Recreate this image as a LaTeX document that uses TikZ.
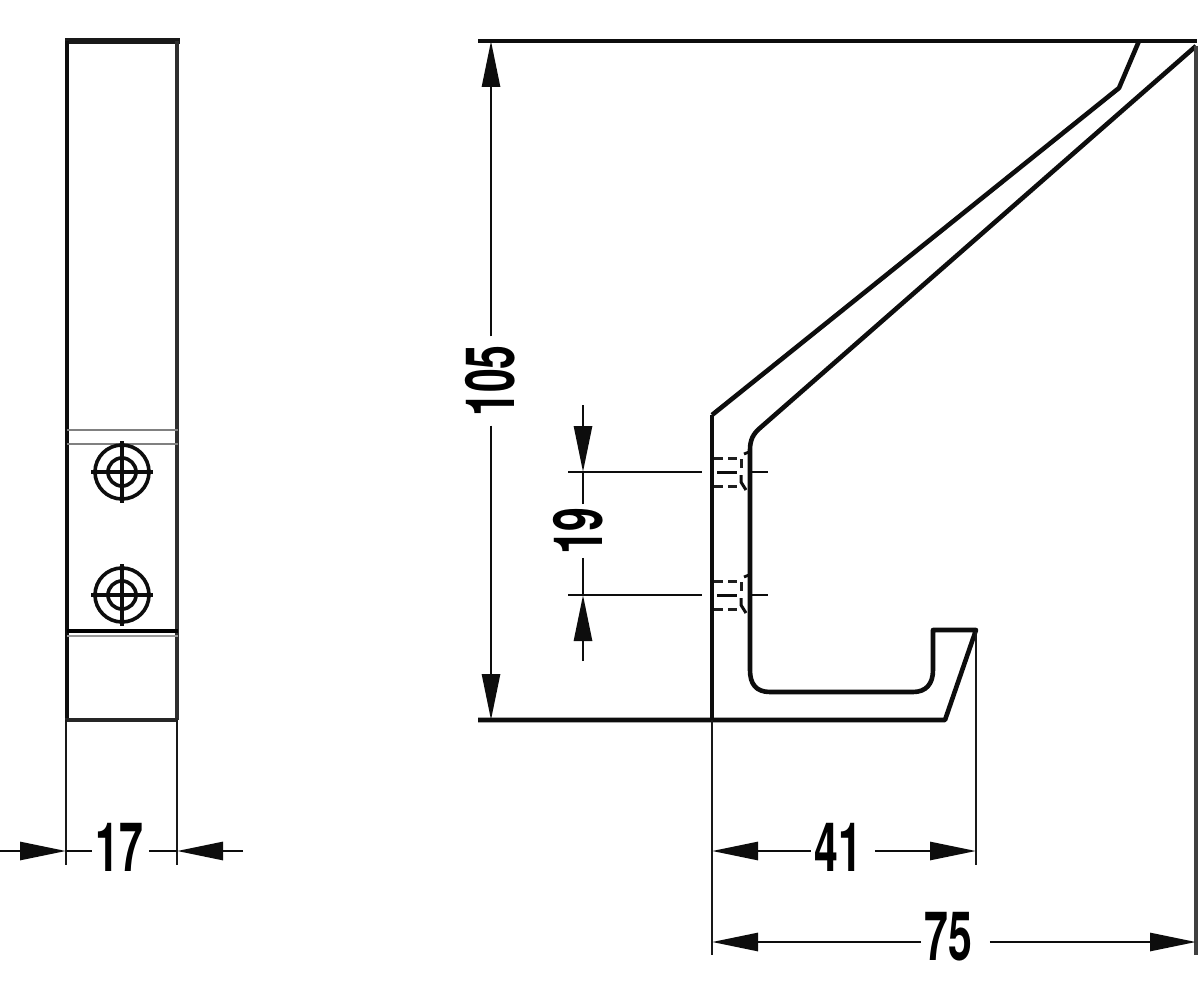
\documentclass[tikz,border=0pt]{standalone}
\usepackage{fontspec}
\setmainfont{TeX Gyre Heros}
\usetikzlibrary{arrows.meta,calc}
\newcommand{\dimtext}[1]{\scalebox{0.63}[1]{\fontsize{68}{68}\selectfont\bfseries #1}}
\tikzset{
  x=1pt,y=-1pt,
  outline/.style={line width=4.6pt,line join=round,draw=black!95},
  thin outline/.style={line width=4pt,draw=black!82},
  greyline/.style={line width=2.4pt,draw=black!50},
  ext/.style={line width=2.8pt,draw=black!90},
  dimline/.style={line width=2.8pt,draw=black!95,-{Triangle[length=46pt,width=18pt]}},
  plainline/.style={line width=2.8pt,draw=black!95},
  hidden/.style={line width=3pt,draw=black!88,dash pattern=on 9pt off 5pt},
  ring/.style={line width=3.6pt,draw=black!95},
  dimlabel/.style={inner sep=0pt,outer sep=3pt,text=black},
}
\begin{document}
\begin{tikzpicture}
\useasboundingbox (0,0) rectangle (1200,1000);
\fill[white] (0,0) rectangle (1200,1000);

% ---------- front view ----------
\draw[line width=5.5pt,draw=black!90] (65,41) -- (180,41);
\draw[line width=4.6pt,draw=black!95] (67,41) -- (67,720);
\draw[thin outline] (177,41) -- (177,720);
\draw[greyline] (67,430) -- (178,430);
\draw[greyline] (67,444) -- (178,444);
\draw[line width=4.6pt,draw=black] (67,631) -- (178,631);
\draw[line width=2.6pt,draw=black!40] (67,636) -- (178,636);
\draw[line width=4pt,draw=black!85] (65,720) -- (178,720);

\foreach \cy in {472,595}{
  \draw[ring] (122,\cy) circle (27);
  \draw[ring] (122,\cy) circle (14);
  \draw[ring] (91,\cy) -- (153,\cy);
  \draw[ring] (122,\cy-31) -- (122,\cy+31);
}

% 17
\coordinate (e17la) at (66,720);
\coordinate (e17lb) at (66,865);
\coordinate (e17ra) at (177,720);
\coordinate (e17rb) at (177,865);
\draw[ext] (e17la) -- (e17lb);
\draw[ext] (e17ra) -- (e17rb);
\node[dimlabel] (lab17) at (119,847) {\dimtext{17}};
\coordinate (t17l) at (66,851);
\coordinate (t17r) at (177,851);
\coordinate (o17l) at (0,851);
\coordinate (o17r) at (243,851);
\draw[dimline] (o17l) -- (t17l);
\draw[dimline] (o17r) -- (t17r);
\draw[plainline] (t17l) -- (lab17.west |- t17l);
\draw[plainline] (t17r) -- ($(lab17.east |- t17r)+(3,0)$);

% ---------- side view ----------
\draw[line width=4.6pt,draw=black!95] (478,41) -- (1197,41);
\draw[outline] (712,415) -- (1119,88) -- (1139,41);
\draw[outline] (1196,46) -- (760,428)
  .. controls (753,434) and (750,440) .. (750,450)
  -- (750,670)
  .. controls (750,684) and (756,692) .. (770,692)
  -- (913,692)
  .. controls (926,692) and (933,684) .. (933,670)
  -- (933,630) -- (976,630) -- (945,720) -- (478,720);
\draw[outline] (712,415) -- (712,720);
\draw[ext] (712,720) -- (712,955);
\draw[line width=3.4pt,draw=black!75] (1196,46) -- (1196,955);
\draw[ext] (976,632) -- (976,865);

% fixing details
\foreach \cy in {472,595}{
  \draw[hidden] (714,\cy-14) -- (741,\cy-14) -- (741,\cy-3);
  \draw[hidden] (714,\cy+14) -- (738,\cy+14);
  \draw[plainline,line width=3pt] (741,\cy+3) -- (741,\cy+10) -- (746,\cy+18);
  \draw[plainline,line width=3pt] (717,\cy) -- (737,\cy);
  \draw[plainline] (752,\cy) -- (768,\cy);
  \draw[plainline] (744,\cy-18) -- (749,\cy-20);
  \draw[plainline] (568,\cy) -- (702,\cy);
}

% 105
\coordinate (t105a) at (491,41);
\coordinate (t105b) at (491,720);
\node[dimlabel,rotate=90] (lab105) at (490,381) {\dimtext{105}};
\draw[dimline] ($(t105a |- lab105.east)+(0,-6)$) -- (t105a);
\draw[dimline] ($(t105b |- lab105.west)+(0,6)$) -- (t105b);

% 19
\coordinate (t19a) at (583,472);
\coordinate (t19b) at (583,595);
\coordinate (o19a) at (583,405);
\coordinate (o19b) at (583,661);
\node[dimlabel,rotate=90] (lab19) at (578,531) {\dimtext{19}};
\draw[dimline] (o19a) -- (t19a);
\draw[dimline] (o19b) -- (t19b);
\draw[plainline] (t19a |- lab19.east) -- (t19a);
\draw[plainline] (t19b |- lab19.west) -- (t19b);

% 41
\coordinate (t41a) at (712,851);
\coordinate (t41b) at (976,851);
\node[dimlabel] (lab41) at (838,847) {\dimtext{41}};
\draw[dimline] (lab41.west |- t41a) -- (t41a);
\draw[dimline] ($(lab41.east |- t41b)+(10,0)$) -- (t41b);

% 75
\coordinate (t75a) at (712,942);
\coordinate (t75b) at (1196,942);
\node[dimlabel] (lab75) at (948,937) {\dimtext{75}};
\draw[dimline] (lab75.west |- t75a) -- (t75a);
\draw[dimline] ($(lab75.east |- t75b)+(15,0)$) -- (t75b);
\end{tikzpicture}
\end{document}
